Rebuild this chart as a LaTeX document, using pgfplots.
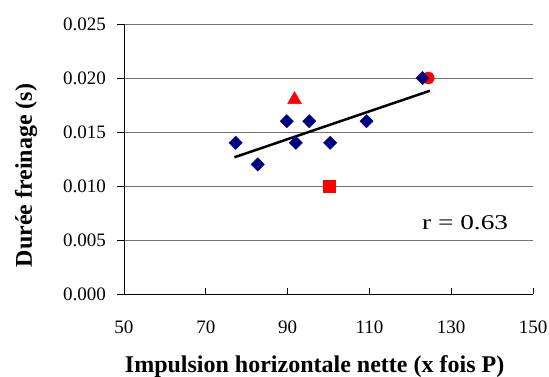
\documentclass[border=0pt]{standalone}
\usepackage{pgfplots}
\pgfplotsset{compat=1.18}
\usepackage{graphicx}
\usepackage{fontspec}
\setmainfont{Liberation Serif}
\definecolor{navyd}{RGB}{0,0,128}
\begin{document}
\begin{tikzpicture}
\begin{axis}[
  at={(0,0)}, anchor=south west,
  scale only axis, width=409pt, height=270pt,
  xmin=50, xmax=150, ymin=0, ymax=0.025,
  xtick={50,70,90,110,130,150},
  ytick={0,0.005,0.010,0.015,0.020,0.025},
  axis x line*=bottom, axis y line*=left,
  axis line style={-, black, line width=0.9pt},
  x tick style={black, line width=0.9pt}, y tick style={black, line width=0.9pt},
  xtick align=inside, ytick align=outside,
  major tick length=6.5pt,
  ymajorgrids, grid style={black!55, line width=0.9pt},
  scaled y ticks=false,
  yticklabel style={/pgf/number format/fixed, /pgf/number format/precision=3, /pgf/number format/fixed zerofill, xshift=-8pt},
  /pgf/number format/assume math mode=true,
  tick label style={font=\fontsize{19}{21}\selectfont},
  xticklabel style={anchor=base, yshift=-39pt},
  xlabel={\textbf{Impulsion horizontale nette (x fois P)}},
  ylabel={\textbf{Durée freinage (s)}},
  label style={font=\fontsize{24}{26}\selectfont},
  xlabel style={at={(axis description cs:0.466,-0.289)}, anchor=base},
  ylabel style={at={(axis description cs:-0.225,0.439)}, anchor=base},
  clip=false,
]
\addplot[only marks, mark=square*, mark size=4.7pt, mark options={rotate=45}, draw=navyd, fill=navyd] coordinates {
  (77.3,0.014) (82.7,0.012) (89.8,0.016) (92.0,0.014) (95.3,0.016) (100.4,0.014) (109.3,0.016)
};
\addplot[only marks, mark=triangle*, mark size=8pt, draw=red, fill=red] coordinates {(91.7,0.018)};
\addplot[only marks, mark=square*, mark size=6pt, draw=red, fill=red] coordinates {(100.2,0.010)};
\addplot[only marks, mark=*, mark size=6pt, draw=red, fill=red] coordinates {(124.4,0.020)};
\addplot[only marks, mark=square*, mark size=4.7pt, mark options={rotate=45}, draw=navyd, fill=navyd] coordinates {(123.0,0.020)};
\addplot[black, line width=2.5pt] coordinates {(77.0,0.01266) (124.8,0.01882)};
\node[anchor=base, font=\fontsize{21}{23}\selectfont] at (axis cs:133.4,0.0060) {\scalebox{1.3}[1]{r = 0.63}};
\end{axis}
\pgfresetboundingbox
\path[use as bounding box] (-124pt,-82pt) rectangle (425pt,294pt);
\end{tikzpicture}
\end{document}
